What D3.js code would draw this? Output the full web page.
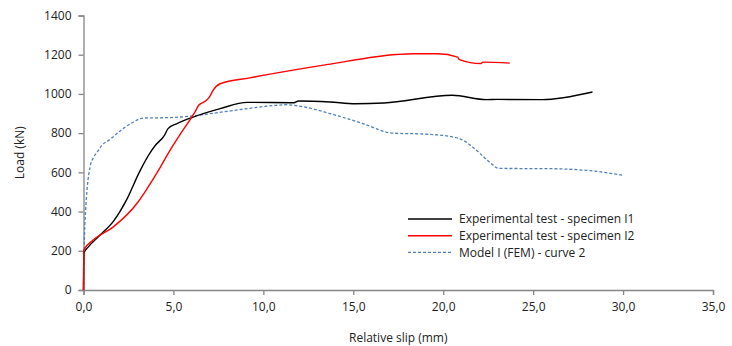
<!DOCTYPE html>
<html>
<head>
<meta charset="utf-8">
<script src="https://cdn.jsdelivr.net/npm/d3@7"></script>
<style>
  html, body { margin: 0; padding: 0; background: #fff; }
  svg { display: block; font-family: "Open Sans", "Liberation Sans", sans-serif; }
</style>
</head>
<body>
<svg id="chart" width="732" height="346"></svg>
<script>
// Load–slip curves: [relative slip (mm), load (kN)]
const specimenI1 = [
  [0, 0], [0.02, 187], [0.27, 220], [0.92, 280], [1.66, 350], [2.45, 470],
  [3.1, 600], [3.8, 713], [4.0, 738], [4.5, 789], [4.7, 823], [5.2, 849],
  [6.1, 882], [7.6, 925], [9.1, 957], [11.7, 955], [11.95, 964], [13.7, 959],
  [15.1, 950], [16.7, 954], [20.5, 993], [22.4, 971], [23.0, 972], [25.5, 971],
  [28.3, 1010]
];
const specimenI2 = [
  [0, 0], [0.02, 204], [0.54, 255], [1.66, 322], [3.0, 445], [3.5, 512],
  [4.2, 615], [4.7, 696], [5.4, 798], [5.9, 865], [6.2, 908], [6.4, 942],
  [6.8, 965], [7.0, 984], [7.2, 1018], [7.6, 1052], [9.25, 1082], [13.7, 1152],
  [17.4, 1201], [18.3, 1205], [19.7, 1205], [20.8, 1188], [20.9, 1175],
  [22.1, 1155], [22.2, 1162], [23.7, 1157]
];
const modelFEM = [
  [0, 0], [0.05, 260], [0.12, 410], [0.2, 515], [0.36, 625], [0.55, 675],
  [0.75, 702], [1.0, 735], [1.5, 770], [2.2, 823], [2.8, 858], [3.3, 877],
  [4.25, 878], [5.9, 886], [7.5, 905], [9.1, 925], [10.5, 940], [11.3, 945],
  [12.0, 938], [13.7, 900], [15.5, 850], [17.2, 800], [19.0, 795], [20.5, 781],
  [21.1, 764], [22.0, 700], [22.6, 650], [23.1, 620], [25.7, 619], [28.0, 610],
  [30.0, 585]
];

const xTicks = [0, 5, 10, 15, 20, 25, 30, 35];
const yTicks = [0, 200, 400, 600, 800, 1000, 1200, 1400];

const seriesNames = [
  "Experimental test - specimen I1",
  "Experimental test - specimen I2",
  "Model I (FEM) - curve 2"
];

const svg = d3.select("#chart");
const margin = { left: 83.5, right: 19, top: 15.5, bottom: 56 };
const W = 732, H = 346;

const x = d3.scaleLinear().domain([0, 35]).range([margin.left, W - margin.right]);
const y = d3.scaleLinear().domain([0, 1400]).range([H - margin.bottom, margin.top]);

const fmt = d => d3.format(".1f")(d).replace(".", ",");
const axisColor = "#868686";
const fontSize = 12;

// x axis
const gx = svg.append("g")
  .attr("transform", `translate(0,${y(0)})`)
  .call(d3.axisBottom(x).tickValues(xTicks).tickFormat(fmt).tickSize(5).tickPadding(7));
// y axis
const gy = svg.append("g")
  .attr("transform", `translate(${x(0)},0)`)
  .call(d3.axisLeft(y).tickValues(yTicks).tickFormat(d3.format("d")).tickSize(5).tickPadding(7));

[gx, gy].forEach(g => {
  g.select(".domain").attr("stroke", axisColor).attr("stroke-width", 1.3);
  g.selectAll(".tick line").attr("stroke", axisColor).attr("stroke-width", 1.3);
  g.selectAll(".tick text").attr("fill", "#222").attr("font-size", fontSize)
    .attr("font-family", "'Open Sans', 'Liberation Sans', sans-serif");
});

// axis titles
svg.append("text")
  .attr("x", x(17.5)).attr("y", 342)
  .attr("text-anchor", "middle")
  .attr("font-size", fontSize).attr("fill", "#222")
  .text("Relative slip (mm)");
svg.append("text")
  .attr("transform", `translate(24,${y(700)}) rotate(-90)`)
  .attr("text-anchor", "middle")
  .attr("font-size", fontSize).attr("fill", "#222")
  .text("Load (kN)");

const line = d3.line()
  .x(d => x(d[0])).y(d => y(d[1]))
  .curve(d3.curveMonotoneX);

const series = [
  { data: modelFEM, color: "#4f81bd", width: 1.3, dash: "3,2", name: seriesNames[2] },
  { data: specimenI1, color: "#000000", width: 1.4, dash: null, name: seriesNames[0] },
  { data: specimenI2, color: "#ff0000", width: 1.4, dash: null, name: seriesNames[1] }
];

svg.append("g").selectAll("path")
  .data(series)
  .join("path")
  .attr("d", d => line(d.data))
  .attr("fill", "none")
  .attr("stroke", d => d.color)
  .attr("stroke-width", d => d.width)
  .attr("stroke-dasharray", d => d.dash)
  .attr("stroke-linejoin", "round");

// legend
const legendItems = [series[1], series[2], series[0]];
const lg = svg.append("g").attr("transform", "translate(408,219)");
legendItems.forEach((s, i) => {
  const row = lg.append("g").attr("transform", `translate(0,${i * 16.7})`);
  row.append("line")
    .attr("x1", 0).attr("x2", 44).attr("y1", 0).attr("y2", 0)
    .attr("stroke", s.color).attr("stroke-width", s.width)
    .attr("stroke-dasharray", s.dash);
  row.append("text")
    .attr("x", 51).attr("y", 0).attr("dy", "0.35em")
    .attr("font-size", fontSize).attr("fill", "#222")
    .text(s.name);
});
</script>
</body>
</html>
